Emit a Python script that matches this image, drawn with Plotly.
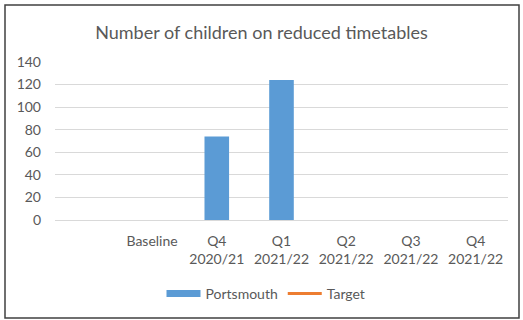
import plotly.graph_objects as go

_BLUE, _ORANGE, _GRID, _TEXT = "#5b9bd5", "#ed7d31", "#d9d9d9", "#595959"

categories = [" ", "Baseline", "Q4<br>2020/21", "Q1<br>2021/22",
              "Q2<br>2021/22", "Q3<br>2021/22", "Q4<br>2021/22"]
portsmouth = [None, None, 74, 124, None, None, None]
target = [None, None, None, None, None, None, None]

W, H = 523, 320
L, R, T, B = 55, 15, 62, 100
pw, ph = W - L - R, H - T - B

fig = go.Figure()
fig.add_trace(go.Bar(x=categories, y=portsmouth, name="Portsmouth", showlegend=False,
                     marker=dict(color=_BLUE, line=dict(width=0))))
# wide legend key like Excel's, drawn as a thick line with no points
fig.add_trace(go.Scatter(x=categories, y=target, name="Portsmouth", mode="lines",
                         line=dict(color=_BLUE, width=7)))
fig.add_trace(go.Scatter(x=categories, y=target, name="Target", mode="lines",
                         line=dict(color=_ORANGE, width=3)))

fig.update_layout(
    width=W, height=H, margin=dict(l=L, r=R, t=T, b=B, autoexpand=False),
    plot_bgcolor="white", paper_bgcolor="white",
    font=dict(family="Lato, Open Sans, sans-serif", size=14, color=_TEXT),
    bargap=0.62,
    title=dict(text="Number of children on reduced timetables", x=0.5, xanchor="center",
               y=1 - 33 / H, yanchor="middle", font=dict(size=18, color=_TEXT)),
    legend=dict(orientation="h", x=(266 - L) / pw, xanchor="center",
                y=-(294 - (T + ph)) / ph, yanchor="middle", font=dict(size=14),
                itemwidth=34),
)
fig.update_xaxes(type="category", showgrid=False, showline=True, linecolor=_GRID,
                 ticks="", ticklabelstandoff=8, tickfont=dict(size=14))
fig.update_yaxes(range=[0, 140], dtick=20, gridcolor=_GRID, showline=False,
                 zeroline=False, ticks="", ticklabelstandoff=13, tickfont=dict(size=14))

# outer chart border
fig.add_shape(type="rect", xref="paper", yref="paper",
              x0=(5 - L) / pw, x1=(519 - L) / pw,
              y0=(T + ph - 318) / ph, y1=(T + ph - 5) / ph,
              line=dict(color="#404040", width=1.5), layer="below")

fig.write_html("out.html", config={"displayModeBar": False},
               post_script="document.body.style.margin='0';")
